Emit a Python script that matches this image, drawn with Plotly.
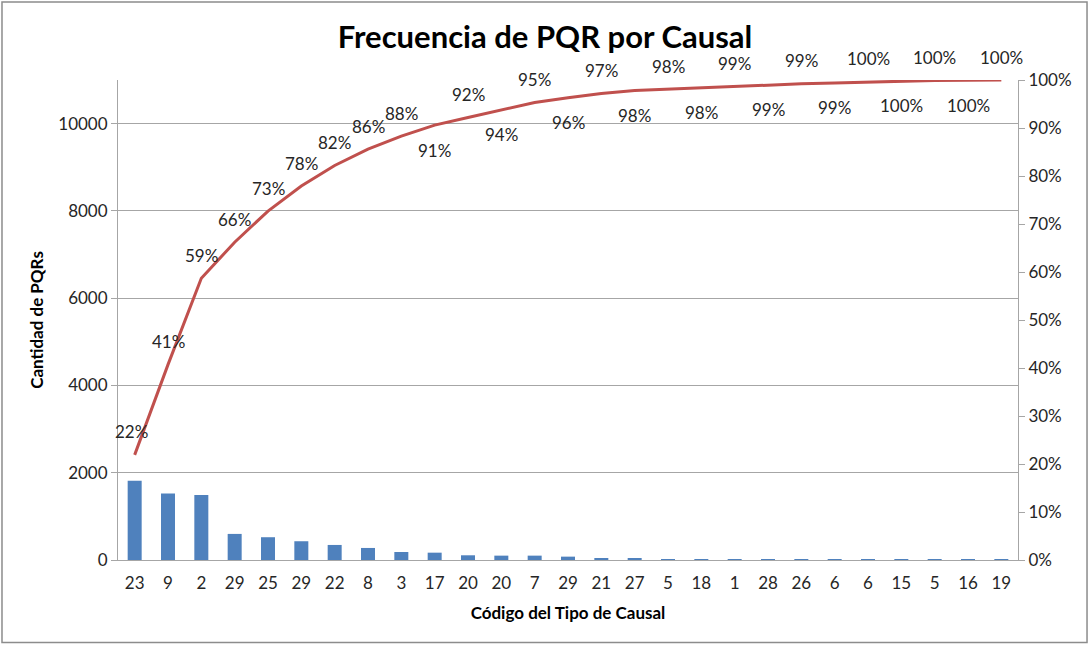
import plotly.graph_objects as go

categories = ["23", "9", "2", "29", "25", "29", "22", "8", "3", "17", "20", "20", "7", "29",
              "21", "27", "5", "18", "1", "28", "26", "6", "6", "15", "5", "16", "19"]
counts = [1816, 1524, 1487, 598, 522, 430, 345, 276, 184, 168, 108, 100, 100, 77,
          40, 25, 20, 12, 10, 9, 8, 6, 5, 4, 3, 2, 1]
cum_pct = [21.9, 40.7, 58.7, 66.2, 72.7, 77.9, 82.2, 85.6, 88.3, 90.6, 92.2, 93.8, 95.3, 96.3,
           97.2, 97.8, 98.1, 98.4, 98.7, 99.0, 99.2, 99.4, 99.6, 99.8, 99.9, 99.95, 100.0]
pct_labels = ["22%", "41%", "59%", "66%", "73%", "78%", "82%", "86%", "88%", "91%", "92%",
              "94%", "95%", "96%", "97%", "98%", "98%", "98%", "99%", "99%", "99%", "99%",
              "100%", "100%", "100%", "100%", "100%"]
y_ticks = [0, 2000, 4000, 6000, 8000, 10000]

FONT = "Lato"
TXT = "#262626"
x = list(range(len(categories)))

fig = go.Figure()
fig.add_trace(go.Bar(x=x, y=counts, marker=dict(color="#4F81BD", line=dict(width=0)),
                     width=0.42, yaxis="y", showlegend=False))
fig.add_trace(go.Scatter(x=x, y=[v / 100 for v in cum_pct], mode="lines",
                         line=dict(color="#C0504D", width=3),
                         yaxis="y2", showlegend=False, cliponaxis=False))

for i, (xi, v, lab) in enumerate(zip(x, cum_pct, pct_labels)):
    below = i >= 9 and (i - 9) % 2 == 0
    fig.add_annotation(x=xi, y=v / 100, xref="x", yref="y2", text=lab, showarrow=False,
                       yshift=-25 if below else 23, xshift=-3 if i == 0 else 0,
                       font=dict(family=FONT, size=17, color=TXT))

fig.update_layout(
    width=1090, height=648,
    margin=dict(l=118, r=72, t=80, b=88),
    paper_bgcolor="white", plot_bgcolor="white",
    font=dict(family=FONT, color=TXT),
    title=dict(text="<b>Frecuencia de PQR por Causal</b>", x=0.5, xanchor="center",
               y=0.943, yanchor="middle", font=dict(family=FONT, size=31, color="black")),
    xaxis=dict(range=[-0.5, len(categories) - 0.5], tickmode="array", tickvals=x,
               ticktext=categories, tickfont=dict(size=17, color=TXT),
               showline=True, linecolor="#A6A6A6", linewidth=1, showgrid=False,
               ticks="", ticklabelstandoff=8,
               title=dict(text="<b>Código del Tipo de Causal</b>",
                          font=dict(size=17, color="black"), standoff=14),
               zeroline=False),
    yaxis=dict(range=[0, 11000], tickmode="array", tickvals=y_ticks,
               ticktext=[str(t) for t in y_ticks],
               tickfont=dict(size=17, color=TXT), showline=True, linecolor="#A6A6A6",
               showgrid=True, gridcolor="#A6A6A6", gridwidth=1, ticks="outside",
               ticklen=6, tickcolor="#A6A6A6", zeroline=False,
               title=dict(text="<b>Cantidad de PQRs</b>", font=dict(size=17, color="black"),
                          standoff=10)),
    yaxis2=dict(range=[0, 1], overlaying="y", side="right", tickformat=".0%", dtick=0.1,
                tickfont=dict(size=17, color=TXT), showline=True, linecolor="#A6A6A6",
                showgrid=False, ticks="outside", ticklen=6, tickcolor="#A6A6A6",
                zeroline=False),
    bargap=0.5,
)

fig.add_shape(type="rect", xref="paper", yref="paper",
              x0=-0.1289, x1=1.0767, y0=-0.172, y1=1.1625,
              line=dict(color="#8C8C8C", width=1.5), fillcolor="rgba(0,0,0,0)", layer="below")

fig.write_html("out.html", config={"displayModeBar": False},
               post_script="document.body.style.margin='0';document.body.style.overflow='hidden';")
